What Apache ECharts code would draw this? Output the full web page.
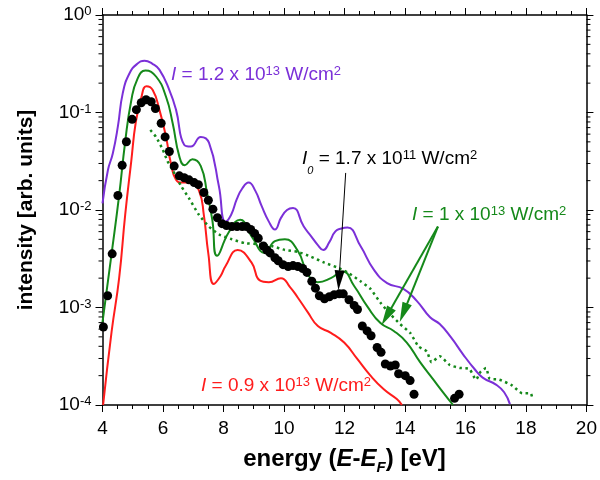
<!DOCTYPE html>
<html>
<head>
<meta charset="utf-8">
<script src="https://cdn.jsdelivr.net/npm/echarts@6/dist/echarts.min.js"></script>
<style>html,body{margin:0;padding:0;background:#fff}#chart{width:600px;height:480px}</style>
</head>
<body>
<div id="chart"></div>
<script>
// ---- data ----
const xTickLabels = ['4','6','8','10','12','14','16','18','20'];
const yTickExponents = ['-4','-3','-2','-1','0'];
const yMinorTickValues = [2e-4,3e-4,4e-4,5e-4,6e-4,7e-4,8e-4,9e-4,2e-3,3e-3,4e-3,5e-3,6e-3,7e-3,8e-3,9e-3,2e-2,3e-2,4e-2,5e-2,6e-2,7e-2,8e-2,9e-2,0.2,0.3,0.4,0.5,0.6,0.7,0.8,0.9];

const energyPurple = [4.0,4.18,4.34,4.51,4.67,4.89,5.15,5.39,5.65,5.88,6.21,6.43,6.70,6.92,7.25,7.52,7.85,8.06,8.25,8.44,8.62,8.83,9.05,9.26,9.50,9.70,9.90,10.10,10.30,10.65,10.9,11.12,11.3,11.5,11.7,11.9,12.1,12.53,12.97,13.41,13.95,14.39,14.83,15.15,15.53,15.92,16.30,16.57,17.01,17.28,17.47];
const intensityPurple = [0.0117,0.0257,0.038,0.0724,0.158,0.251,0.316,0.339,0.316,0.275,0.170,0.107,0.0468,0.0447,0.0562,0.049,0.0174,0.00759,0.0089,0.0129,0.0166,0.0191,0.0158,0.011,0.0076,0.00631,0.0083,0.0100,0.0105,0.0068,0.00537,0.00437,0.00389,0.00468,0.00603,0.00646,0.00661,0.00427,0.00245,0.00178,0.00155,0.00117,0.000794,0.000676,0.00049,0.000331,0.000234,0.000191,0.000162,0.000135,0.000102];

const energyGreen = [4.0,4.3,4.55,4.75,4.95,5.15,5.42,5.77,6.10,6.32,6.54,6.72,6.97,7.25,7.46,7.63,7.79,8.17,8.55,8.93,9.37,9.70,10.03,10.46,10.79,11.12,11.55,11.94,12.32,12.76,13.19,13.63,14.06,14.50,14.94,15.26,15.59];
const intensityGreen = [0.000708,0.00355,0.0141,0.0501,0.132,0.219,0.269,0.234,0.145,0.0776,0.0355,0.0288,0.0331,0.0282,0.0148,0.00794,0.00339,0.00589,0.00794,0.00537,0.00363,0.00479,0.00501,0.0038,0.00219,0.00182,0.002,0.00234,0.00166,0.00102,0.000692,0.000575,0.000437,0.000275,0.000182,0.000135,0.0001];

const energyRed = [4.02,4.3,4.55,4.75,4.95,5.1,5.28,5.45,5.66,5.88,6.10,6.26,6.43,6.64,6.92,7.19,7.35,7.5,7.68,7.9,8.06,8.47,8.93,9.2,9.5,9.9,10.2,10.46,10.79,11.12,11.55,11.99,12.43,12.86,13.30,13.73,13.9];
const intensityRed = [0.0001,0.000562,0.002,0.00891,0.0316,0.0794,0.141,0.186,0.17,0.107,0.0562,0.0302,0.0204,0.0191,0.0191,0.0158,0.00891,0.00355,0.00174,0.00209,0.00263,0.00389,0.00288,0.0019,0.00182,0.002,0.00162,0.00126,0.000891,0.000646,0.00055,0.000437,0.000295,0.0002,0.000145,0.000115,0.0001];

const energyDotted = [5.58,5.77,5.99,6.15,6.32,6.59,6.86,7.19,7.52,7.85,8.28,8.72,9.15,9.59,10.03,10.46,10.90,11.34,11.77,12.10,12.53,12.86,13.19,13.52,13.84,14.17,14.45,14.72,14.88,15.15,15.48,15.81,16.13,16.35,16.50,16.68,16.80,17.12,17.55,17.88,18.15,18.22];
const intensityDotted = [0.0661,0.0562,0.0417,0.0316,0.0257,0.0178,0.0132,0.00891,0.00676,0.00562,0.00501,0.00457,0.00447,0.00427,0.00389,0.00372,0.00331,0.00288,0.00257,0.00229,0.00186,0.00155,0.00112,0.000851,0.000676,0.00055,0.000398,0.000355,0.000275,0.000316,0.000257,0.00024,0.000234,0.000182,0.000219,0.00024,0.000186,0.000182,0.000158,0.000132,0.000132,0.000115];

const energyDots = [4.03,4.17,4.32,4.51,4.65,4.79,4.98,5.12,5.28,5.44,5.61,5.75,5.94,6.07,6.21,6.37,6.54,6.70,6.86,7.03,7.17,7.35,7.50,7.65,7.80,7.95,8.10,8.28,8.45,8.62,8.76,8.90,9.03,9.15,9.32,9.43,9.54,9.70,9.81,9.97,10.14,10.30,10.46,10.62,10.76,10.92,11.04,11.17,11.34,11.50,11.66,11.83,11.96,12.15,12.32,12.43,12.59,12.75,12.88,13.08,13.21,13.35,13.52,13.68,13.79,14.01,14.17,14.30,15.64,15.79];
const intensityDots = [0.000631,0.00132,0.00355,0.0141,0.0288,0.0501,0.0851,0.107,0.126,0.135,0.129,0.11,0.0776,0.0562,0.0398,0.0282,0.0224,0.0214,0.0204,0.0191,0.0182,0.0151,0.0126,0.0102,0.00832,0.00724,0.00692,0.00676,0.00676,0.00676,0.00676,0.00631,0.00575,0.00513,0.00427,0.00389,0.00363,0.00324,0.00302,0.00275,0.00263,0.00269,0.00263,0.00251,0.00229,0.00186,0.00158,0.00132,0.00123,0.00129,0.00135,0.00138,0.00138,0.0012,0.00105,0.000955,0.000646,0.000575,0.000513,0.000389,0.000347,0.000263,0.000251,0.000257,0.000209,0.0002,0.000178,0.000129,0.000117,0.000129];

// annotation arrows (data coordinates: [energy, intensity])
const arrowI0 = [[12.04, 0.024], [11.82, 0.0019]];
const arrowGreenA = [[15.09, 0.00676], [13.39, 0.000807]];
const arrowGreenB = [[15.09, 0.00676], [13.95, 0.000883]];

// ---- chart ----
const PURPLE = '#7b30d8', GREEN = '#15891a', RED = '#ff1c1c';
const FONT = '"Liberation Sans", Arial, sans-serif';
const zip = (xs, ys) => xs.map((x, i) => [x, ys[i]]);

const chart = echarts.init(document.getElementById('chart'), null, {renderer: 'canvas'});

const axisLineStyle = {color: '#000', width: 1.5};
const xBase = {
  type: 'value', min: 4, max: 20, interval: 2,
  axisLine: {show: true, onZero: false, lineStyle: axisLineStyle},
  axisTick: {show: true, inside: false, length: 7, lineStyle: {color: '#000', width: 1}},
  minorTick: {show: true, splitNumber: 4, length: 4, lineStyle: {color: '#000', width: 1}},
  splitLine: {show: false}, minorSplitLine: {show: false}
};
const yBase = {
  type: 'log', logBase: 10, min: 1e-4, max: 1,
  axisLine: {show: true, onZero: false, lineStyle: axisLineStyle},
  axisTick: {show: true, inside: false, length: 7, lineStyle: {color: '#000', width: 1}},
  splitLine: {show: false}
};

function label(text, x, y, color, extraRich) {
  return {type: 'text', x: x, y: y, silent: true, z: 10, style: {
    text: text, fill: color, fontSize: 19, fontFamily: FONT, verticalAlign: 'middle',
    rich: Object.assign({
      i: {fontStyle: 'italic', fontSize: 19, fontFamily: FONT, fill: color},
      s: {fontSize: 13, fontFamily: FONT, fill: color, padding: [0, 0, 7, 0]}
    }, extraRich || {})}};
}

const option = {
  animation: false,
  backgroundColor: '#fff',
  textStyle: {fontFamily: FONT},
  grid: {left: 102.5, right: 9, top: 15, bottom: 74, containLabel: false},
  xAxis: [
    Object.assign({}, xBase, {
      position: 'bottom',
      axisLabel: {show: true, color: '#000', fontSize: 19, fontFamily: FONT, margin: 14,
        formatter: v => xTickLabels[Math.round((v - 4) / 2)]},
      name: '{b|energy (}{bi|E}{b|-}{bi|E}{sub|F}{b|) [eV]}',
      nameLocation: 'middle', nameGap: 38,
      nameTextStyle: {color: '#000', fontFamily: FONT,
        rich: {
          b: {fontSize: 24, fontWeight: 'bold', fontFamily: FONT, color: '#000'},
          bi: {fontSize: 24, fontWeight: 'bold', fontStyle: 'italic', fontFamily: FONT, color: '#000'},
          sub: {fontSize: 15, fontWeight: 'bold', fontStyle: 'italic', fontFamily: FONT, color: '#000', padding: [17, 0, 0, 0]}
        }}
    }),
    Object.assign({}, xBase, {position: 'top', axisLabel: {show: false}})
  ],
  yAxis: [
    Object.assign({}, yBase, {
      position: 'left',
      axisLabel: {show: true, color: '#000', margin: 11,
        formatter: v => '{b|10}{s|' + yTickExponents[Math.round(Math.log10(v)) + 4] + '}',
        rich: {
          b: {fontSize: 19, fontFamily: FONT, color: '#000'},
          s: {fontSize: 13, fontFamily: FONT, color: '#000', padding: [0, 0, 7, 0]}
        }},
      name: 'intensity [arb. units]',
      nameLocation: 'middle', nameGap: 66,
      nameTextStyle: {color: '#000', fontSize: 21, fontWeight: 'bold', fontFamily: FONT}
    }),
    Object.assign({}, yBase, {position: 'right', axisLabel: {show: false}})
  ],
  series: [
    {type: 'line', name: 'I=1.2e13', data: zip(energyPurple, intensityPurple), smooth: 0.5,
      showSymbol: false, lineStyle: {color: PURPLE, width: 2}, itemStyle: {color: PURPLE}, z: 3},
    {type: 'line', name: 'I=1e13', data: zip(energyGreen, intensityGreen), smooth: 0.5,
      showSymbol: false, lineStyle: {color: GREEN, width: 2}, itemStyle: {color: GREEN}, z: 3},
    {type: 'line', name: 'I=0.9e13', data: zip(energyRed, intensityRed), smooth: 0.5,
      showSymbol: false, lineStyle: {color: RED, width: 2}, itemStyle: {color: RED}, z: 3},
    {type: 'line', name: 'I=1e13 dotted', data: zip(energyDotted, intensityDotted), smooth: 0.2,
      showSymbol: false, lineStyle: {color: GREEN, width: 2.5, type: [2.5, 3.5]}, itemStyle: {color: GREEN}, z: 3},
    {type: 'scatter', name: 'I0', data: zip(energyDots, intensityDots), symbol: 'circle', symbolSize: 9,
      itemStyle: {color: '#000', opacity: 1}, z: 4,
      markLine: {
        silent: true, animation: false, symbol: ['none', 'triangle'], symbolSize: [10, 20],
        label: {show: false},
        data: [
          [{coord: arrowI0[0], lineStyle: {color: '#000', width: 1, type: 'solid'}},
           {coord: arrowI0[1], itemStyle: {color: '#000'}}],
          [{coord: arrowGreenA[0], lineStyle: {color: GREEN, width: 2, type: 'solid'}},
           {coord: arrowGreenA[1], itemStyle: {color: GREEN}}],
          [{coord: arrowGreenB[0], lineStyle: {color: GREEN, width: 2, type: 'solid'}},
           {coord: arrowGreenB[1], itemStyle: {color: GREEN}}]
        ]
      }},
    {type: 'custom', name: 'yMinorTicks', coordinateSystem: 'cartesian2d', clip: false, silent: true, z: 5,
      data: yMinorTickValues.map(v => [4, v]),
      renderItem: function (params, api) {
        const p = api.coord([4, api.value(1)]);
        const q = api.coord([20, api.value(1)]);
        return {type: 'group', children: [
          {type: 'line', shape: {x1: p[0] - 4, y1: p[1], x2: p[0], y2: p[1]}, style: {stroke: '#000', lineWidth: 1}},
          {type: 'line', shape: {x1: q[0], y1: q[1], x2: q[0] + 4, y2: q[1]}, style: {stroke: '#000', lineWidth: 1}}
        ]};
      }}
  ],
  graphic: [
    label('{i|I} = 1.2 x 10{s|13} W/cm{s|2}', 171, 75, PURPLE),
    label('{i|I}{sub|0} = 1.7 x 10{s|11} W/cm{s|2}', 302, 159, '#000',
      {sub: {fontStyle: 'italic', fontSize: 11, fontFamily: FONT, fill: '#000', padding: [24, 0, 0, 0]}}),
    label('{i|I} = 1 x 10{s|13} W/cm{s|2}', 412, 215, GREEN),
    label('{i|I} = 0.9 x 10{s|13} W/cm{s|2}', 201, 386, RED)
  ]
};
chart.setOption(option);
</script>
</body>
</html>
